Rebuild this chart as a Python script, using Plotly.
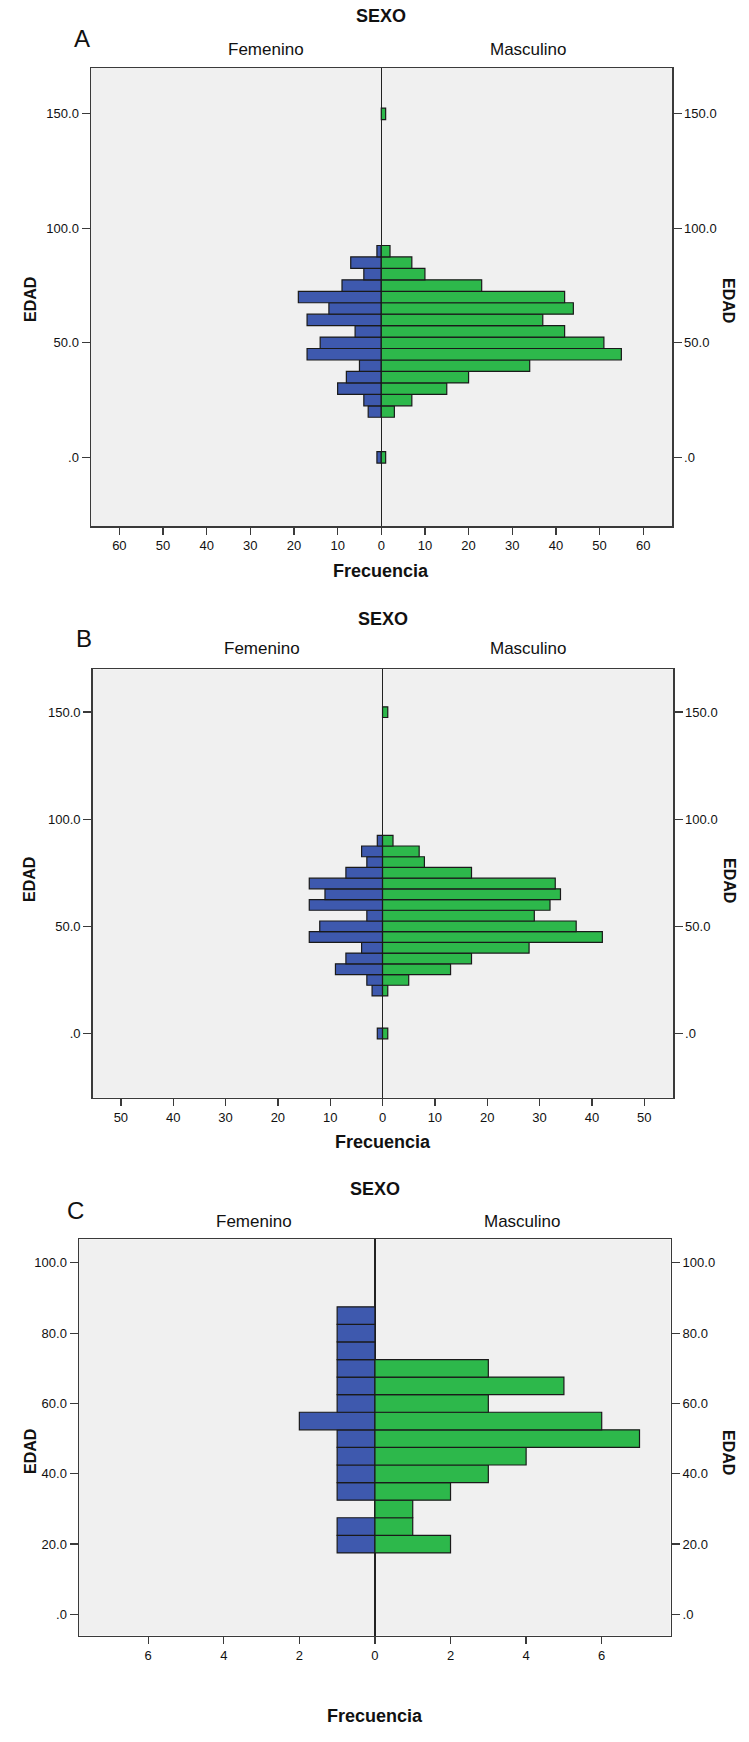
import plotly.graph_objects as go

# ---------------- DATA ----------------
# Panel A
edad_a = [0, 20, 25, 30, 35, 40, 45, 50, 55, 60, 65, 70, 75, 80, 85, 90, 150]
fem_a = [1, 3, 4, 10, 8, 5, 17, 14, 6, 17, 12, 19, 9, 4, 7, 1, 0]
mas_a = [1, 3, 7, 15, 20, 34, 55, 51, 42, 37, 44, 42, 23, 10, 7, 2, 1]

# Panel B
edad_b = [0, 20, 25, 30, 35, 40, 45, 50, 55, 60, 65, 70, 75, 80, 85, 90, 150]
fem_b = [1, 2, 3, 9, 7, 4, 14, 12, 3, 14, 11, 14, 7, 3, 4, 1, 0]
mas_b = [1, 1, 5, 13, 17, 28, 42, 37, 29, 32, 34, 33, 17, 8, 7, 2, 1]

# Panel C
edad_c = [20, 25, 30, 35, 40, 45, 50, 55, 60, 65, 70, 75, 80, 85]
fem_c = [1, 1, 0, 1, 1, 1, 1, 2, 1, 1, 1, 1, 1, 1]
mas_c = [2, 1, 1, 2, 3, 4, 7, 6, 3, 5, 3, 0, 0, 0]

bin_width = 5

# Tick values / labels
edad_ticks_ab = [0, 50, 100, 150]
edad_labels_ab = [".0", "50.0", "100.0", "150.0"]
edad_ticks_c = [0, 20, 40, 60, 80, 100]
edad_labels_c = [".0", "20.0", "40.0", "60.0", "80.0", "100.0"]
freq_ticks_a = [-60, -50, -40, -30, -20, -10, 0, 10, 20, 30, 40, 50, 60]
freq_ticks_b = [-50, -40, -30, -20, -10, 0, 10, 20, 30, 40, 50]
freq_ticks_c = [-6, -4, -2, 0, 2, 4, 6]

panel_letters = ["A", "B", "C"]
sexo_title = "SEXO"
sexo_labels = ["Femenino", "Masculino"]
x_title = "Frecuencia"
y_title = "EDAD"

# ---------------- STYLE ----------------
W, H = 749, 1742
BLUE = "#3E59AE"
GREEN = "#2DB84B"
EDGE = "#1a1a1a"
PLOT_BG = "#F0F0F0"
AXIS_COLOR = "#3a3a3a"
FONT = "Liberation Sans, Arial, sans-serif"
TXT = "#111111"

panels = [
    dict(edad=edad_a, fem=fem_a, mas=mas_a, xt=freq_ticks_a, xr=[-66.5, 66.6],
         yt=edad_ticks_ab, yl=edad_labels_ab, yr=[-30, 170],
         px=(91, 672), py=(68, 526),
         sexo_y=16, letter=(82, 38), cat_y=50, cat_x=(266, 528),
         freq_y=571, edad_y=300),
    dict(edad=edad_b, fem=fem_b, mas=mas_b, xt=freq_ticks_b, xr=[-55.4, 55.5],
         yt=edad_ticks_ab, yl=edad_labels_ab, yr=[-30, 170],
         px=(92.6, 673), py=(669.3, 1097.7),
         sexo_y=619, letter=(84, 639), cat_y=648, cat_x=(262, 528),
         freq_y=1142, edad_y=880),
    dict(edad=edad_c, fem=fem_c, mas=mas_c, xt=freq_ticks_c, xr=[-7.83, 7.82],
         yt=edad_ticks_c, yl=edad_labels_c, yr=[-6, 106.7],
         px=(79, 670.5), py=(1239.3, 1635.5),
         sexo_y=1189, letter=(75, 1210), cat_y=1221, cat_x=(254, 522),
         freq_y=1716, edad_y=1452),
]


def px2x(v):
    return v / W


def px2y(v):
    return 1 - v / H


fig = go.Figure()
annotations = []
layout_axes = {}

for i, p in enumerate(panels):
    xn = "x" if i == 0 else f"x{i + 1}"
    yl_idx = 2 * i + 1
    yr_idx = 2 * i + 2
    yln = "y" if yl_idx == 1 else f"y{yl_idx}"
    yrn = f"y{yr_idx}"

    f_y = [a for a, v in zip(p["edad"], p["fem"]) if v > 0]
    f_x = [-v for v in p["fem"] if v > 0]
    m_y = [a for a, v in zip(p["edad"], p["mas"]) if v > 0]
    m_x = [v for v in p["mas"] if v > 0]

    fig.add_trace(go.Bar(
        x=f_x, y=f_y, orientation="h", width=bin_width,
        marker=dict(color=BLUE, line=dict(color=EDGE, width=1.2)),
        xaxis=xn, yaxis=yln, showlegend=False, name="Femenino"))
    fig.add_trace(go.Bar(
        x=m_x, y=m_y, orientation="h", width=bin_width,
        marker=dict(color=GREEN, line=dict(color=EDGE, width=1.2)),
        xaxis=xn, yaxis=yrn, showlegend=False, name="Masculino"))

    xdom = [px2x(p["px"][0]), px2x(p["px"][1])]
    ydom = [px2y(p["py"][1]), px2y(p["py"][0])]

    xkey = "xaxis" if i == 0 else f"xaxis{i + 1}"
    ylkey = "yaxis" if yl_idx == 1 else f"yaxis{yl_idx}"
    yrkey = f"yaxis{yr_idx}"

    layout_axes[xkey] = dict(
        domain=xdom, anchor=yln, range=p["xr"],
        tickmode="array", tickvals=p["xt"], ticktext=[str(abs(t)) for t in p["xt"]],
        ticks="outside", ticklen=7, tickwidth=1.3, tickcolor=AXIS_COLOR,
        showline=True, linecolor=AXIS_COLOR, linewidth=1.5, mirror=True,
        showgrid=False, zeroline=True, zerolinecolor="#222222", zerolinewidth=1.3,
        tickfont=dict(family=FONT, size=13, color=TXT), fixedrange=True)
    common_y = dict(
        domain=ydom, anchor=xn, range=p["yr"],
        tickmode="array", tickvals=p["yt"], ticktext=p["yl"],
        ticks="outside", ticklen=8, tickwidth=1.3, tickcolor=AXIS_COLOR,
        showline=True, linecolor=AXIS_COLOR, linewidth=1.5,
        showgrid=False, zeroline=False,
        tickfont=dict(family=FONT, size=13, color=TXT), fixedrange=True)
    layout_axes[ylkey] = dict(common_y, side="left")
    layout_axes[yrkey] = dict(common_y, side="right", overlaying=yln)

    zero_px = p["px"][0] + (p["px"][1] - p["px"][0]) * (0 - p["xr"][0]) / (p["xr"][1] - p["xr"][0])

    def ann(text, x, y, size, bold=False, angle=0):
        annotations.append(dict(
            text=f"<b>{text}</b>" if bold else text,
            x=px2x(x), y=px2y(y), xref="paper", yref="paper",
            xanchor="center", yanchor="middle", showarrow=False,
            textangle=angle, font=dict(family=FONT, size=size, color=TXT)))

    ann(sexo_title, zero_px, p["sexo_y"], 18, bold=True)
    ann(panel_letters[i], p["letter"][0], p["letter"][1], 24)
    ann(sexo_labels[0], p["cat_x"][0], p["cat_y"], 17)
    ann(sexo_labels[1], p["cat_x"][1], p["cat_y"], 17)
    ann(x_title, zero_px, p["freq_y"], 18, bold=True)
    ann(y_title, 30, p["edad_y"], 16, bold=True, angle=-90)
    ann(y_title, 729, p["edad_y"], 16, bold=True, angle=90)

fig.update_layout(
    width=W, height=H,
    margin=dict(l=0, r=0, t=0, b=0),
    paper_bgcolor="white",
    plot_bgcolor=PLOT_BG,
    barmode="overlay",
    bargap=0,
    annotations=annotations,
    **layout_axes,
)

fig.write_html(
    "out.html",
    config={"displayModeBar": False, "staticPlot": True},
    post_script="document.body.style.margin='0px';document.body.style.padding='0px';"
                "document.documentElement.style.overflow='hidden';",
)
